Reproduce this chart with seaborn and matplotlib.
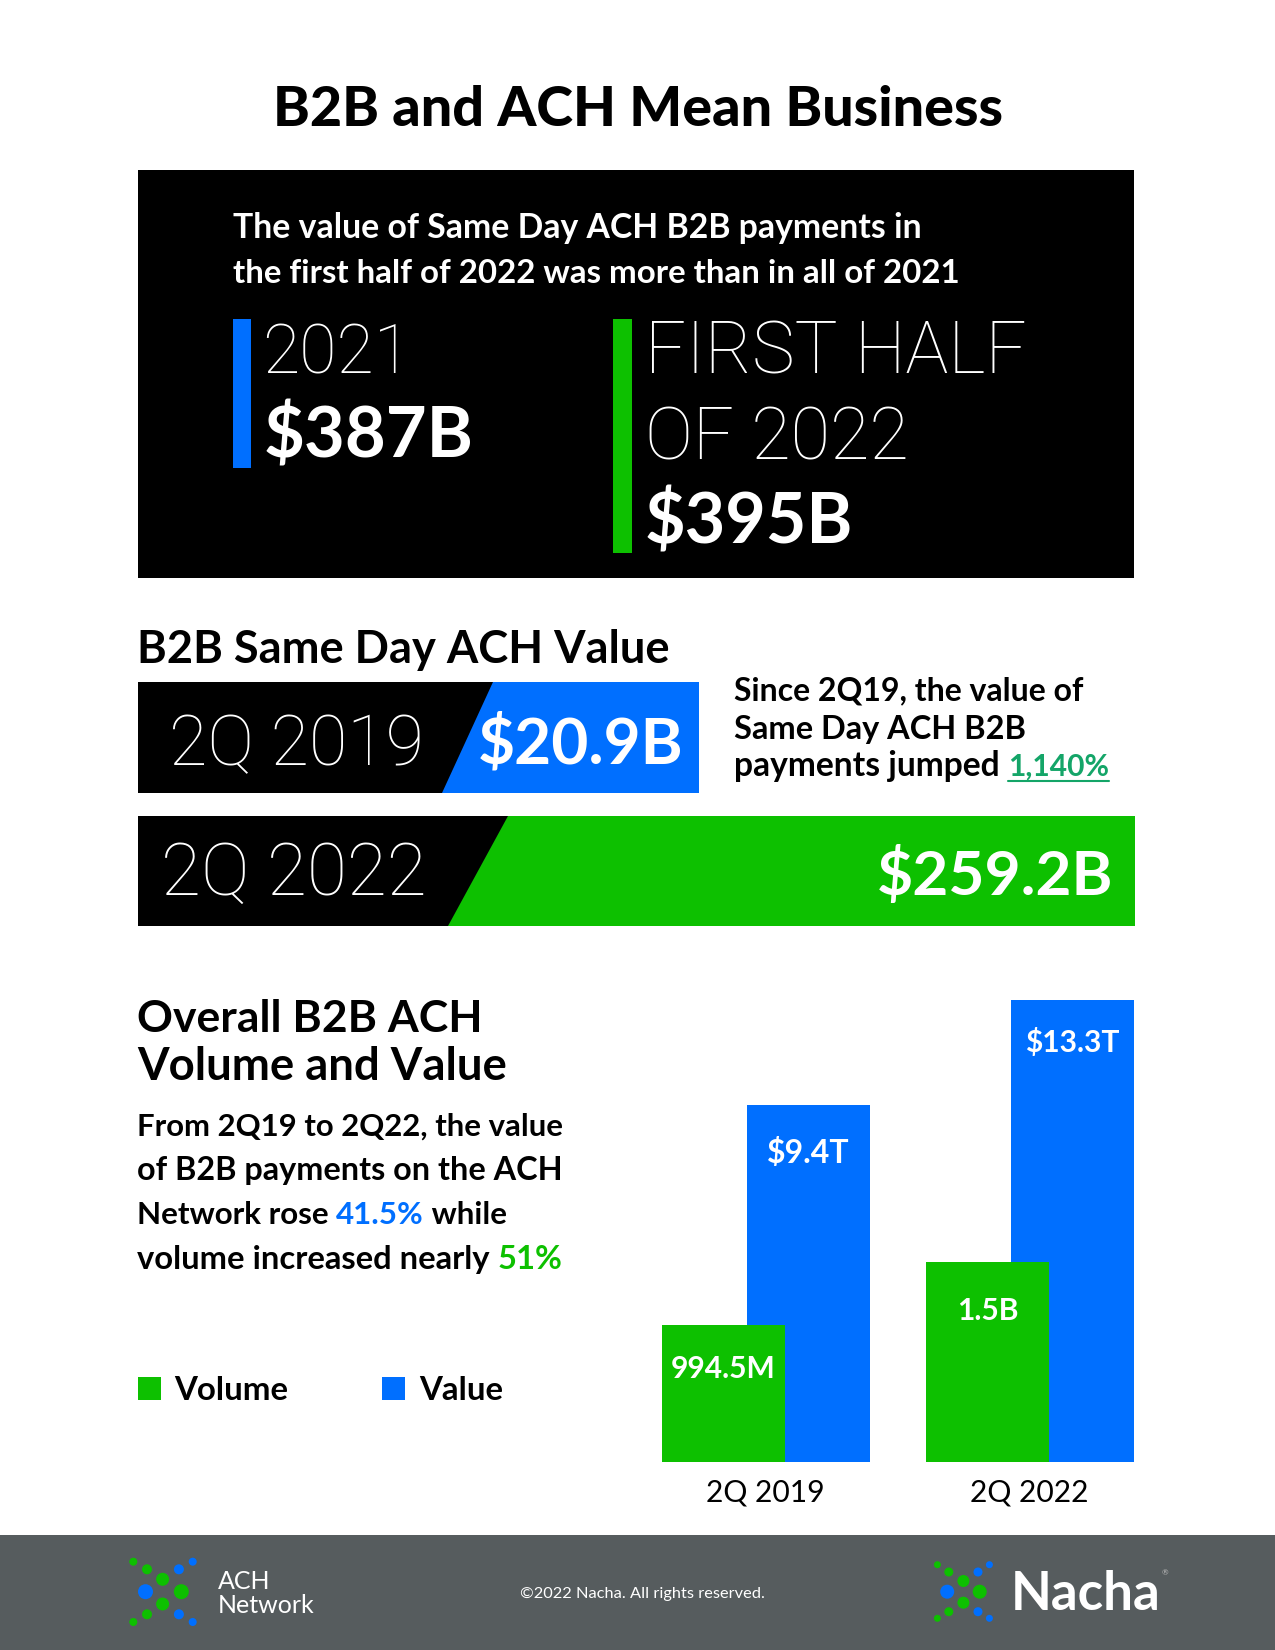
#!/usr/bin/env python3

import matplotlib
matplotlib.use('Agg')
import matplotlib.pyplot as plt
from matplotlib.patches import Circle, Polygon, Rectangle
import seaborn as sns

# Same Day ACH B2B value, billions of dollars
same_day_labels = ['2Q 2019', '2Q 2022']
same_day_value = [20.9, 259.2]
same_day_text = ['$20.9B', '$259.2B']

# Overall B2B ACH
quarters = ['2Q 2019', '2Q 2022']
value_trillions = [9.4, 13.3]
volume_billions = [0.9945, 1.5]
value_text = ['$9.4T', '$13.3T']
volume_text = ['994.5M', '1.5B']

BLUE = '#006FFF'
GREEN = '#0DC000'
TEAL = '#14A568'
GREY = '#565C5E'

W, H = 1275, 1650
FONT = 'Lato'
THIN = 'Roboto'

sns.set_theme(style='white')
plt.rcParams['font.family'] = [FONT, 'DejaVu Sans']

fig = plt.figure(figsize=(W / 100, H / 100), dpi=100, facecolor='white')


def px_axes(left, top, right, bottom, **kw):
    return fig.add_axes([left / W, 1 - bottom / H, (right - left) / W, (bottom - top) / H], **kw)


def px(size):
    # font size from a pixel size
    return size * 72 / 100


def clean(ax):
    ax.set_facecolor('none')
    sns.despine(ax=ax, left=True, bottom=True)
    ax.minorticks_off()
    ax.set_xticks([])
    ax.set_yticks([])
    ax.set_xlabel('')
    ax.set_ylabel('')


# Page layer in pixel coordinates, sits above the charts
page = px_axes(0, 0, W, H, zorder=5)
page.set_xlim(0, W)
page.set_ylim(H, 0)
page.axis('off')

# Same Day ACH bars
ax_same = px_axes(138, 670.75, 1134.5, 937.75, zorder=2)
sns.barplot(x=same_day_value, y=same_day_labels, color=GREEN, width=0.831, saturation=1, linewidth=0, ax=ax_same)
ax_same.patches[0].set_facecolor(BLUE)
ax_same.set_xscale('log')
ax_same.set_xlim(0.816, 259.2)
ax_same.set_ylim(1.5, -0.5)
clean(ax_same)
for i, (val, lbl, pad, drop, size) in enumerate(zip(same_day_value, same_day_text, [-15, -21.5], [-26, -24], [64, 62.3])):
    ax_same.annotate(lbl, xy=(val, i), xytext=(px(pad), px(drop)), textcoords='offset points',
                     ha='right', va='baseline', color='white', fontsize=px(size), fontweight='bold', zorder=6)

# Overall volume and value bars
ax_value = px_axes(676.5, 987, 1204.5, 1462, zorder=2)
sns.barplot(x=quarters, y=value_trillions, color=BLUE, width=0.466, saturation=1, linewidth=0, ax=ax_value)
ax_value.set_yscale('log')
ax_value.set_xlim(-0.5, 1.5)
ax_value.set_ylim(2.92, 13.86)
clean(ax_value)
for i, (val, lbl, off, size) in enumerate(zip(value_trillions, value_text, [-58, -52], [32, 30])):
    ax_value.annotate(lbl, xy=(i, val), xytext=(0, px(off)), textcoords='offset points',
                      ha='center', va='baseline', color='white', fontsize=px(size), fontweight='bold')

ax_volume = px_axes(591.5, 987, 1119.5, 1462, zorder=3)
sns.barplot(x=quarters, y=volume_billions, color=GREEN, width=0.466, saturation=1, linewidth=0, ax=ax_volume)
ax_volume.set_yscale('log')
ax_volume.set_xlim(-0.5, 1.5)
ax_volume.set_ylim(0.406, 9.05)
clean(ax_volume)
for i, (val, lbl, off) in enumerate(zip(volume_billions, volume_text, [-53, -58])):
    ax_volume.annotate(lbl, xy=(i, val), xytext=(0, px(off)), textcoords='offset points',
                       ha='center', va='baseline', color='white', fontsize=px(30), fontweight='bold')
# group tick labels sit between the two bars
ax_volume.set_xticks([0.159, 1.159], labels=quarters, fontsize=px(30), color='black')
ax_volume.tick_params(axis='x', length=0, pad=px(17))

# Page shapes
page.add_patch(Rectangle((138, 170), 996, 408, color='black', lw=0))
page.add_patch(Rectangle((232.5, 319), 18.5, 149, color=BLUE, lw=0))
page.add_patch(Rectangle((613, 319), 19, 234, color=GREEN, lw=0))
page.add_patch(Polygon([(138, 682), (493, 682), (442, 793), (138, 793)], color='black', lw=0))
page.add_patch(Polygon([(138, 816), (508, 816), (448, 926), (138, 926)], color='black', lw=0))
page.add_patch(Rectangle((0, 1535), W, 115, color=GREY, lw=0))
page.add_patch(Rectangle((138, 1377), 23, 23, color=GREEN, lw=0))
page.add_patch(Rectangle((382, 1377), 23, 23, color=BLUE, lw=0))

# Logo dots
for x, y, r, c in [(133.3, 1561.7, 4, GREEN), (147, 1569.3, 5, GREEN), (162.6, 1579.3, 6.5, GREEN),
                   (181.3, 1591.7, 7.5, GREEN), (162.6, 1604, 6.5, GREEN), (147, 1614.3, 5, GREEN),
                   (133.3, 1622, 4, GREEN), (192.7, 1561.7, 4, BLUE), (178.9, 1569.3, 5, BLUE),
                   (145.5, 1591.7, 7.5, BLUE), (178.9, 1614.3, 5, BLUE), (192.7, 1622, 4, BLUE),
                   (937.4, 1564.7, 3.5, GREEN), (948.8, 1572, 4.5, GREEN), (963.4, 1581, 6, GREEN),
                   (979.7, 1591.7, 7, GREEN), (963.4, 1602.7, 6, GREEN), (948.8, 1611.7, 4.5, GREEN),
                   (937.4, 1618.3, 3.5, GREEN), (989.4, 1564.7, 3.5, BLUE), (978, 1572, 4.5, BLUE),
                   (947.2, 1591.7, 7, BLUE), (978, 1611.7, 4.5, BLUE), (989.4, 1618.3, 3.5, BLUE)]:
    page.add_patch(Circle((x, y), r, color=c, lw=0))


def txt(x, y, s, size, color='black', weight='bold', **kw):
    return page.text(x, y, s, fontsize=px(size), color=color, fontweight=weight, va='baseline', **kw)


def thin(x, y, s, size):
    return txt(x, y, s, size, 'white', 'light', family=[THIN, 'DejaVu Sans'])


def runs(x, y, parts, weight='bold'):
    # a line of text with coloured words
    rend = fig.canvas.get_renderer()
    out = []
    for s, color, size in parts:
        t = txt(x, y, s, size, color, weight)
        probe = txt(x, y, s + '.', size, color, weight)
        dot = txt(x, y, '.', size, color, weight)
        adv = probe.get_window_extent(rend).width - dot.get_window_extent(rend).width
        probe.remove()
        dot.remove()
        out.append((x, adv, t))
        x += adv
    return out


txt(638, 126, 'B2B and ACH Mean Business', 55.6, ha='center', weight='black')
txt(233, 238, 'The value of Same Day ACH B2B payments in', 33.8, 'white')
txt(233, 283, 'the first half of 2022 was more than in all of 2021', 33, 'white')
thin(262, 374, '2021', 68)
txt(264, 457, '$387B', 70.5, 'white')
thin(645, 374, 'FIRST HALF', 72)
thin(645, 459, 'OF 2022', 72)
txt(645, 543, '$395B', 70, 'white')

txt(137, 663, 'B2B Same Day ACH Value', 45.3)
thin(169, 765, '2Q 2019', 70)
thin(161, 895, '2Q 2022', 73)

txt(734, 700.5, 'Since 2Q19, the value of', 32)
txt(734, 738.5, 'Same Day ACH B2B', 32.5)
for x0, adv, t in runs(734, 776, [('payments jumped ', 'black', 33.6), ('1,140%', TEAL, 30)])[1:]:
    page.plot([x0, x0 + adv], [781, 781], color=TEAL, lw=1.5)

txt(137, 1032, 'Overall B2B ACH', 44.5)
txt(137, 1080, 'Volume and Value', 45.5)
txt(137, 1136, 'From 2Q19 to 2Q22, the value', 31.2)
txt(137, 1180, 'of B2B payments on the ACH', 32.4)
runs(137, 1224.5, [('Network rose ', 'black', 31.4), ('41.5%', BLUE, 31.4), (' while', 'black', 31.4)])
runs(137, 1269, [('volume increased nearly ', 'black', 32.8), ('51%', GREEN, 32.8)])
txt(174, 1400, 'Volume', 33)
txt(419, 1400, 'Value', 33)

txt(218, 1589, 'ACH', 25, 'white', 'normal')
txt(218, 1613, 'Network', 25, 'white', 'normal')
txt(520, 1598, '©2022 Nacha. All rights reserved.', 16.4, 'white', 'normal')
txt(1011, 1610, 'Nacha', 53, 'white', 'bold')
txt(1162, 1575, '®', 8, '#BBBBBB', 'normal')

fig.savefig('out.png', dpi=100, facecolor='white')
